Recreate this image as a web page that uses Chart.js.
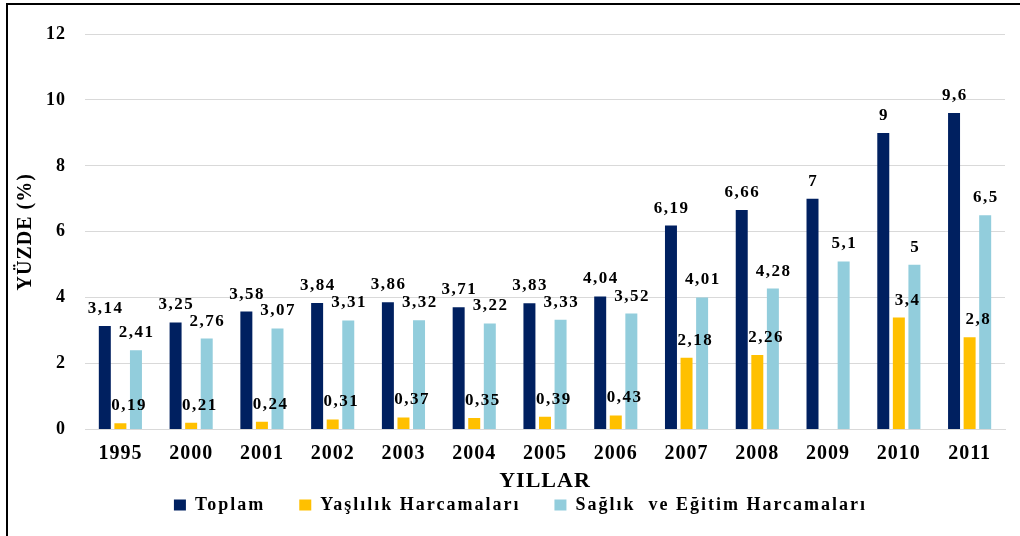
<!DOCTYPE html>
<html>
<head>
<meta charset="utf-8">
<script src="https://cdn.jsdelivr.net/npm/chart.js@4.4.1/dist/chart.umd.min.js"></script>
<style>
  html, body { margin: 0; padding: 0; background: #fff; overflow: hidden; }
  #wrap { position: relative; width: 1020px; height: 536px; }
  #c { position: absolute; left: 0; top: 0; }
  #frame { position: absolute; left: 6px; top: 3px; width: 1100px; height: 600px;
           border-left: 2px solid #000; border-top: 2px solid #000; pointer-events: none; }
</style>
</head>
<body>
<div id="wrap">
  <canvas id="c" width="1020" height="536"></canvas>
  <div id="frame"></div>
</div>
<script>
const categories = ['1995','2000','2001','2002','2003','2004','2005','2006','2007','2008','2009','2010','2011'];
const toplam   = [3.14, 3.25, 3.58, 3.84, 3.86, 3.71, 3.83, 4.04, 6.19, 6.66, 7, 9, 9.6];
const yaslilik = [0.19, 0.21, 0.24, 0.31, 0.37, 0.35, 0.39, 0.43, 2.18, 2.26, null, 3.4, 2.8];
const saglik   = [2.41, 2.76, 3.07, 3.31, 3.32, 3.22, 3.33, 3.52, 4.01, 4.28, 5.1, 5, 6.5];
const seriesNames = ['Toplam', 'Yaşlılık Harcamaları', 'Sağlık  ve Eğitim Harcamaları'];
const yTicks = [0, 2, 4, 6, 8, 10, 12];

const SERIF = '"Liberation Serif", "Times New Roman", serif';

const LEGEND_PAD = 34;      // horizontal gap between legend items
const LEGEND_H = 37;        // height the legend takes in the layout
const LEGEND_SHIFT = -33;   // vertical shift applied when drawing the legend
const LEGEND_SHIFT_X = 14;  // horizontal shift applied when drawing the legend

const spacingPlugin = {
  id: 'spacing',
  afterInit(chart) {
    chart.ctx.letterSpacing = '1px';
    const lg = chart.legend;
    if (lg && !lg._patched) {
      lg._patched = true;
      const origFit = lg.fit.bind(lg);
      lg.fit = function () {
        const ctx = chart.ctx;
        ctx.save(); ctx.letterSpacing = '2px';
        origFit();
        ctx.restore();
        this.height = LEGEND_H;
      };
      const origDraw = lg.draw.bind(lg);
      lg.draw = function () {
        const ctx = chart.ctx;
        const t = this.top, l = this.left, r = this.right;
        this.top = t + LEGEND_SHIFT;
        this.left = l + LEGEND_SHIFT_X;
        this.right = r + LEGEND_SHIFT_X;
        ctx.save(); ctx.letterSpacing = '2px';
        origDraw();
        ctx.restore();
        this.top = t; this.left = l; this.right = r;
      };
    }
  },
  beforeUpdate(chart) { chart.ctx.letterSpacing = '1px'; },
  beforeDraw(chart) { chart.ctx.letterSpacing = '1px'; }
};

const labelOffsets = [0, 8, 0];
const valueLabels = {
  id: 'valueLabels',
  afterDatasetsDraw(chart) {
    const ctx = chart.ctx;
    ctx.save();
    ctx.font = 'bold 17px ' + SERIF;
    ctx.letterSpacing = '1.5px';
    ctx.fillStyle = '#000';
    ctx.textAlign = 'center';
    ctx.textBaseline = 'alphabetic';
    chart.data.datasets.forEach((ds, di) => {
      const meta = chart.getDatasetMeta(di);
      meta.data.forEach((el, i) => {
        const v = ds.data[i];
        if (v === null || v === undefined) return;
        const txt = String(v).replace('.', ',');
        ctx.fillText(txt, el.x + labelOffsets[di] + 0.75, el.y - 13);
      });
    });
    ctx.restore();
  }
};

new Chart(document.getElementById('c'), {
  type: 'bar',
  data: {
    labels: categories,
    datasets: [
      { label: seriesNames[0], data: toplam,   backgroundColor: '#002060' },
      { label: seriesNames[1], data: yaslilik, backgroundColor: '#FFC000' },
      { label: seriesNames[2], data: saglik,   backgroundColor: '#92CDDC' }
    ]
  },
  options: {
    responsive: false,
    animation: false,
    devicePixelRatio: 1,
    layout: { padding: { left: 8, right: 15, top: 34, bottom: 4 } },
    datasets: { bar: { categoryPercentage: 0.66, barPercentage: 0.77 } },
    plugins: {
      tooltip: { enabled: false },
      legend: {
        position: 'bottom',
        labels: {
          font: { family: SERIF, size: 18, weight: 'bold' },
          color: '#000',
          boxWidth: 12,
          boxHeight: 11,
          padding: LEGEND_PAD
        }
      }
    },
    scales: {
      x: {
        grid: { display: false, drawTicks: false },
        border: { display: true, color: '#d9d9d9', width: 1 },
        ticks: { font: { family: SERIF, size: 20, weight: 'bold' }, color: '#000', padding: 12 },
        title: { display: true, text: 'YILLAR', font: { family: SERIF, size: 22, weight: 'bold' }, color: '#000', padding: { top: -9, bottom: 0 } }
      },
      y: {
        min: 0, max: 12,
        afterBuildTicks(s) { s.ticks = yTicks.map(v => ({ value: v })); },
        afterFit(s) { s.width = 77; },
        grid: { color: '#d9d9d9', drawTicks: false },
        border: { display: false },
        ticks: { font: { family: SERIF, size: 18, weight: 'bold' }, color: '#000', padding: 19 },
        title: { display: true, text: 'YÜZDE (%)', font: { family: SERIF, size: 20, weight: 'bold' }, color: '#000', padding: { top: 6, bottom: 0 } }
      }
    }
  },
  plugins: [spacingPlugin, valueLabels]
});
</script>
</body>
</html>
